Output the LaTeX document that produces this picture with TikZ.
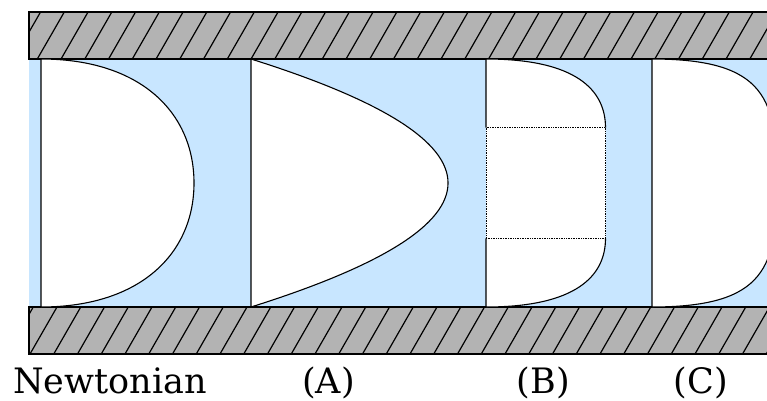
\documentclass[tikz,border=0pt]{standalone}
\usepackage{fontspec}
\setmainfont{DejaVu Serif}
\usetikzlibrary{positioning}
\definecolor{fluidblue}{RGB}{200,230,255}
\definecolor{wallgray}{RGB}{179,179,179}

\begin{document}
\begin{tikzpicture}[x=1pt, y=-1pt,
 wall/.style={fill=wallgray, draw, line width=1.3pt},
 hatch/.style={line width=1.2pt},
 profile/.style={fill=white, draw, line width=1.1pt},
 plug/.style={densely dotted, line width=0.7pt},
 caption/.style={font=\fontsize{35}{40}\selectfont, anchor=base}]
\useasboundingbox (0,0) rectangle (767,400);
% fluid between the plates
\fill[fluidblue] (29,59) rectangle (790,307);
% top plate
\draw[wall] (29,12) rectangle (790,59);
\begin{scope}
 \clip (29,12) rectangle (790,59);
 \foreach \i in {-2,...,32}
  \draw[hatch] ({37.3+23.75*\i},59) -- ++(27,-47);
\end{scope}
\draw[line width=1.3pt] (29,12) rectangle (790,59);
% bottom plate
\draw[wall] (29,307) rectangle (790,354);
\begin{scope}
 \clip (29,307) rectangle (790,354);
 \foreach \i in {-2,...,32}
  \draw[hatch] ({30+23.75*\i},354) -- ++(27,-47);
\end{scope}
\draw[line width=1.3pt] (29,307) rectangle (790,354);
% velocity profiles
\draw[profile] (41,59) .. controls (141,59) and (194,113) .. (194,183)
 .. controls (194,253) and (141,307) .. (41,307) -- cycle;
\draw[profile] (251,59) .. controls (513.7,141.7) and (513.7,224.3) .. (251,307) -- cycle;
\fill[white] (486,59) .. controls (576,59) and (605.5,90) .. (605.5,127.7)
 -- (605.5,238.3) .. controls (605.5,276) and (576,307) .. (486,307) -- cycle;
\draw[line width=1.1pt] (486,127.7) -- (486,59) .. controls (576,59) and (605.5,90) .. (605.5,127.7);
\draw[line width=1.1pt] (605.5,238.3) .. controls (605.5,276) and (576,307) .. (486,307) -- (486,238.3);
\draw[plug] (486,127.7) rectangle (605.5,238.3);
\draw[profile] (652,59) .. controls (767,59) and (777,100) .. (777,183)
 .. controls (777,266) and (767,307) .. (652,307) -- cycle;
% labels
\node[caption] (newt) at (110,393) {Newtonian};
\node[caption] (labA) at (328.5,393) {(A)};
\node[caption] (labB) at (543.5,393) {(B)};
\node[caption] (labC) at (701,393) {(C)};
\end{tikzpicture}
\end{document}
